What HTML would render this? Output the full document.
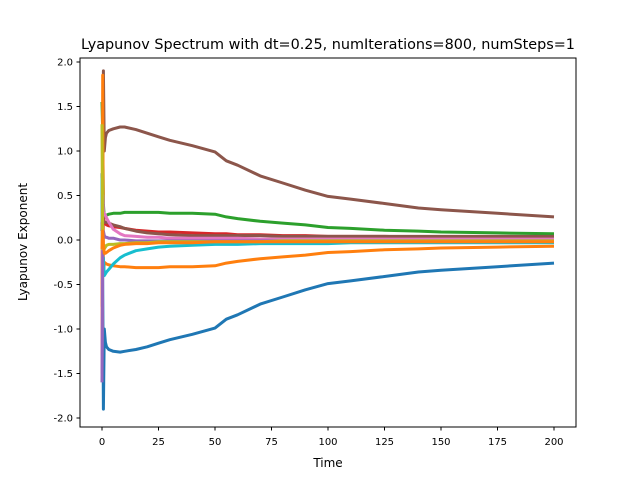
<!DOCTYPE html>
<html><head><meta charset="utf-8"><style>
body{margin:0;background:#fff;font-family:"Liberation Sans","DejaVu Sans",sans-serif}
svg text{font-family:"DejaVu Sans","Liberation Sans",sans-serif;fill:#000}
</style></head><body>
<svg id="chart" width="640" height="480" viewBox="0 0 640 480" xmlns="http://www.w3.org/2000/svg">
<rect width="640" height="480" fill="#fff"/>
<text x="328" y="49" font-size="14.4" text-anchor="middle">Lyapunov Spectrum with dt=0.25, numIterations=800, numSteps=1</text>
<text x="328" y="467" font-size="12" text-anchor="middle">Time</text>
<text x="27" y="242" font-size="12" text-anchor="middle" transform="rotate(-90 27 242)">Lyapunov Exponent</text>
<g id="series"></g>
<g id="axes"></g>
<rect x="80" y="58" width="496" height="369" fill="none" stroke="#000" stroke-width="1"/>
</svg>
<script>
const times=[0,0.3,0.6,1,1.5,2,3,5,8,10,15,20,25,30,40,50,55,60,70,80,90,100,110,125,140,150,175,200];
const blueVals=[0.75,-0.5,-1.9,-1.0,-1.15,-1.2,-1.23,-1.25,-1.26,-1.25,-1.23,-1.2,-1.16,-1.12,-1.06,-0.99,-0.89,-0.84,-0.72,-0.64,-0.56,-0.49,-0.46,-0.41,-0.36,-0.34,-0.3,-0.26];
const brownVals=[-0.75,0.5,1.9,1.0,1.15,1.2,1.23,1.25,1.27,1.27,1.24,1.2,1.16,1.12,1.06,0.99,0.89,0.84,0.72,0.64,0.56,0.49,0.46,0.41,0.36,0.34,0.3,0.26];
const greenVals=[1.55,1.2,0.4,0.25,0.27,0.28,0.29,0.3,0.3,0.31,0.31,0.31,0.31,0.3,0.3,0.29,0.26,0.24,0.21,0.19,0.17,0.14,0.13,0.11,0.1,0.09,0.08,0.07];
const orangeVals=[-1.3,1.85,-0.4,-0.25,-0.26,-0.27,-0.28,-0.29,-0.3,-0.3,-0.31,-0.31,-0.31,-0.3,-0.3,-0.29,-0.26,-0.24,-0.21,-0.19,-0.17,-0.14,-0.13,-0.11,-0.1,-0.09,-0.08,-0.07];
const redVals=[0.2,0.1,0.25,0.2,0.18,0.17,0.16,0.15,0.14,0.13,0.11,0.1,0.09,0.09,0.08,0.07,0.07,0.06,0.06,0.05,0.05,0.04,0.04,0.04,0.03,0.03,0.03,0.02];
const brown2Vals=[0.1,0.3,0.2,0.2,0.2,0.2,0.19,0.17,0.15,0.13,0.1,0.08,0.07,0.06,0.05,0.05,0.05,0.05,0.05,0.04,0.04,0.04,0.04,0.04,0.04,0.04,0.04,0.04];
const cyanVals=[0.7,-0.4,-0.2,-0.4,-0.38,-0.36,-0.33,-0.27,-0.2,-0.17,-0.12,-0.1,-0.08,-0.07,-0.06,-0.05,-0.05,-0.05,-0.04,-0.04,-0.04,-0.04,-0.03,-0.03,-0.03,-0.03,-0.03,-0.03];
const pinkVals=[-1.5,0.5,0.3,0.3,0.28,0.25,0.2,0.12,0.07,0.05,0.04,0.03,0.03,0.02,0.02,0.02,0.02,0.02,0.01,0.01,0.01,0.01,0.01,0.01,0.01,0.01,0.01,0.01];
const purpleVals=[-1.6,-0.2,0.1,0.05,0.03,0.03,0.02,0.02,0.0,0.0,-0.01,-0.01,-0.01,-0.01,-0.01,-0.01,-0.01,-0.01,-0.01,-0.01,-0.01,-0.01,-0.01,-0.01,-0.01,-0.01,-0.01,-0.01];
const oliveVals=[1.3,-0.1,-0.05,-0.1,-0.08,-0.06,-0.05,-0.05,-0.04,-0.04,-0.03,-0.03,-0.02,-0.02,-0.02,-0.02,-0.02,-0.02,-0.02,-0.01,-0.01,-0.01,-0.01,-0.01,-0.01,-0.01,-0.01,-0.01];
const orange2Vals=[-0.1,0.1,-0.05,-0.15,-0.15,-0.14,-0.12,-0.09,-0.06,-0.05,-0.04,-0.04,-0.03,-0.03,-0.03,-0.02,-0.02,-0.02,-0.02,-0.02,-0.02,-0.02,-0.02,-0.02,-0.02,-0.02,-0.02,-0.02];
const seriesNames=['blue','brown','green','orange','red','brown2','cyan','pink','purple','olive','orange2'];
const seriesData=[blueVals,brownVals,greenVals,orangeVals,redVals,brown2Vals,cyanVals,pinkVals,purpleVals,oliveVals,orange2Vals];
const seriesColors=['#1f77b4','#8c564b','#2ca02c','#ff7f0e','#d62728','#8c564b','#17becf','#e377c2','#9467bd','#bcbd22','#ff7f0e'];
const xTicks=[0,25,50,75,100,125,150,175,200];
const yTicks=[-2.0,-1.5,-1.0,-0.5,0.0,0.5,1.0,1.5,2.0];
const NS='http://www.w3.org/2000/svg';
const xs=v=>102+v*(554-102)/200;
const ys=v=>240-v*89;
const sg=document.getElementById('series');
seriesData.forEach((vals,i)=>{
  const p=document.createElementNS(NS,'polyline');
  
  
  p.setAttribute('points',vals.map((v,j)=>xs(times[j]).toFixed(1)+','+ys(v).toFixed(1)).join(' '));
  p.setAttribute('fill','none');
  p.setAttribute('stroke',seriesColors[i]);
  p.setAttribute('stroke-width','3');
  p.setAttribute('stroke-linejoin','round');
  sg.appendChild(p);
});
const ag=document.getElementById('axes');
xTicks.forEach(t=>{
  const l=document.createElementNS(NS,'line');
  
  
  l.setAttribute('x1',xs(t));l.setAttribute('x2',xs(t));l.setAttribute('y1',427);l.setAttribute('y2',430.5);
  l.setAttribute('stroke','#000');ag.appendChild(l);
  const tx=document.createElementNS(NS,'text');
  
  
  tx.setAttribute('x',xs(t));tx.setAttribute('y',445);tx.setAttribute('font-size','10');tx.setAttribute('text-anchor','middle');
  tx.textContent=t;ag.appendChild(tx);
});
yTicks.forEach(t=>{
  const l=document.createElementNS(NS,'line');
  
  
  l.setAttribute('x1',76.5);l.setAttribute('x2',80);l.setAttribute('y1',ys(t));l.setAttribute('y2',ys(t));
  l.setAttribute('stroke','#000');ag.appendChild(l);
  const tx=document.createElementNS(NS,'text');
  
  
  tx.setAttribute('x',73);tx.setAttribute('y',ys(t)+3.5);tx.setAttribute('font-size','10');tx.setAttribute('text-anchor','end');
  tx.textContent=t.toFixed(1);ag.appendChild(tx);
});
</script>
</body></html>
